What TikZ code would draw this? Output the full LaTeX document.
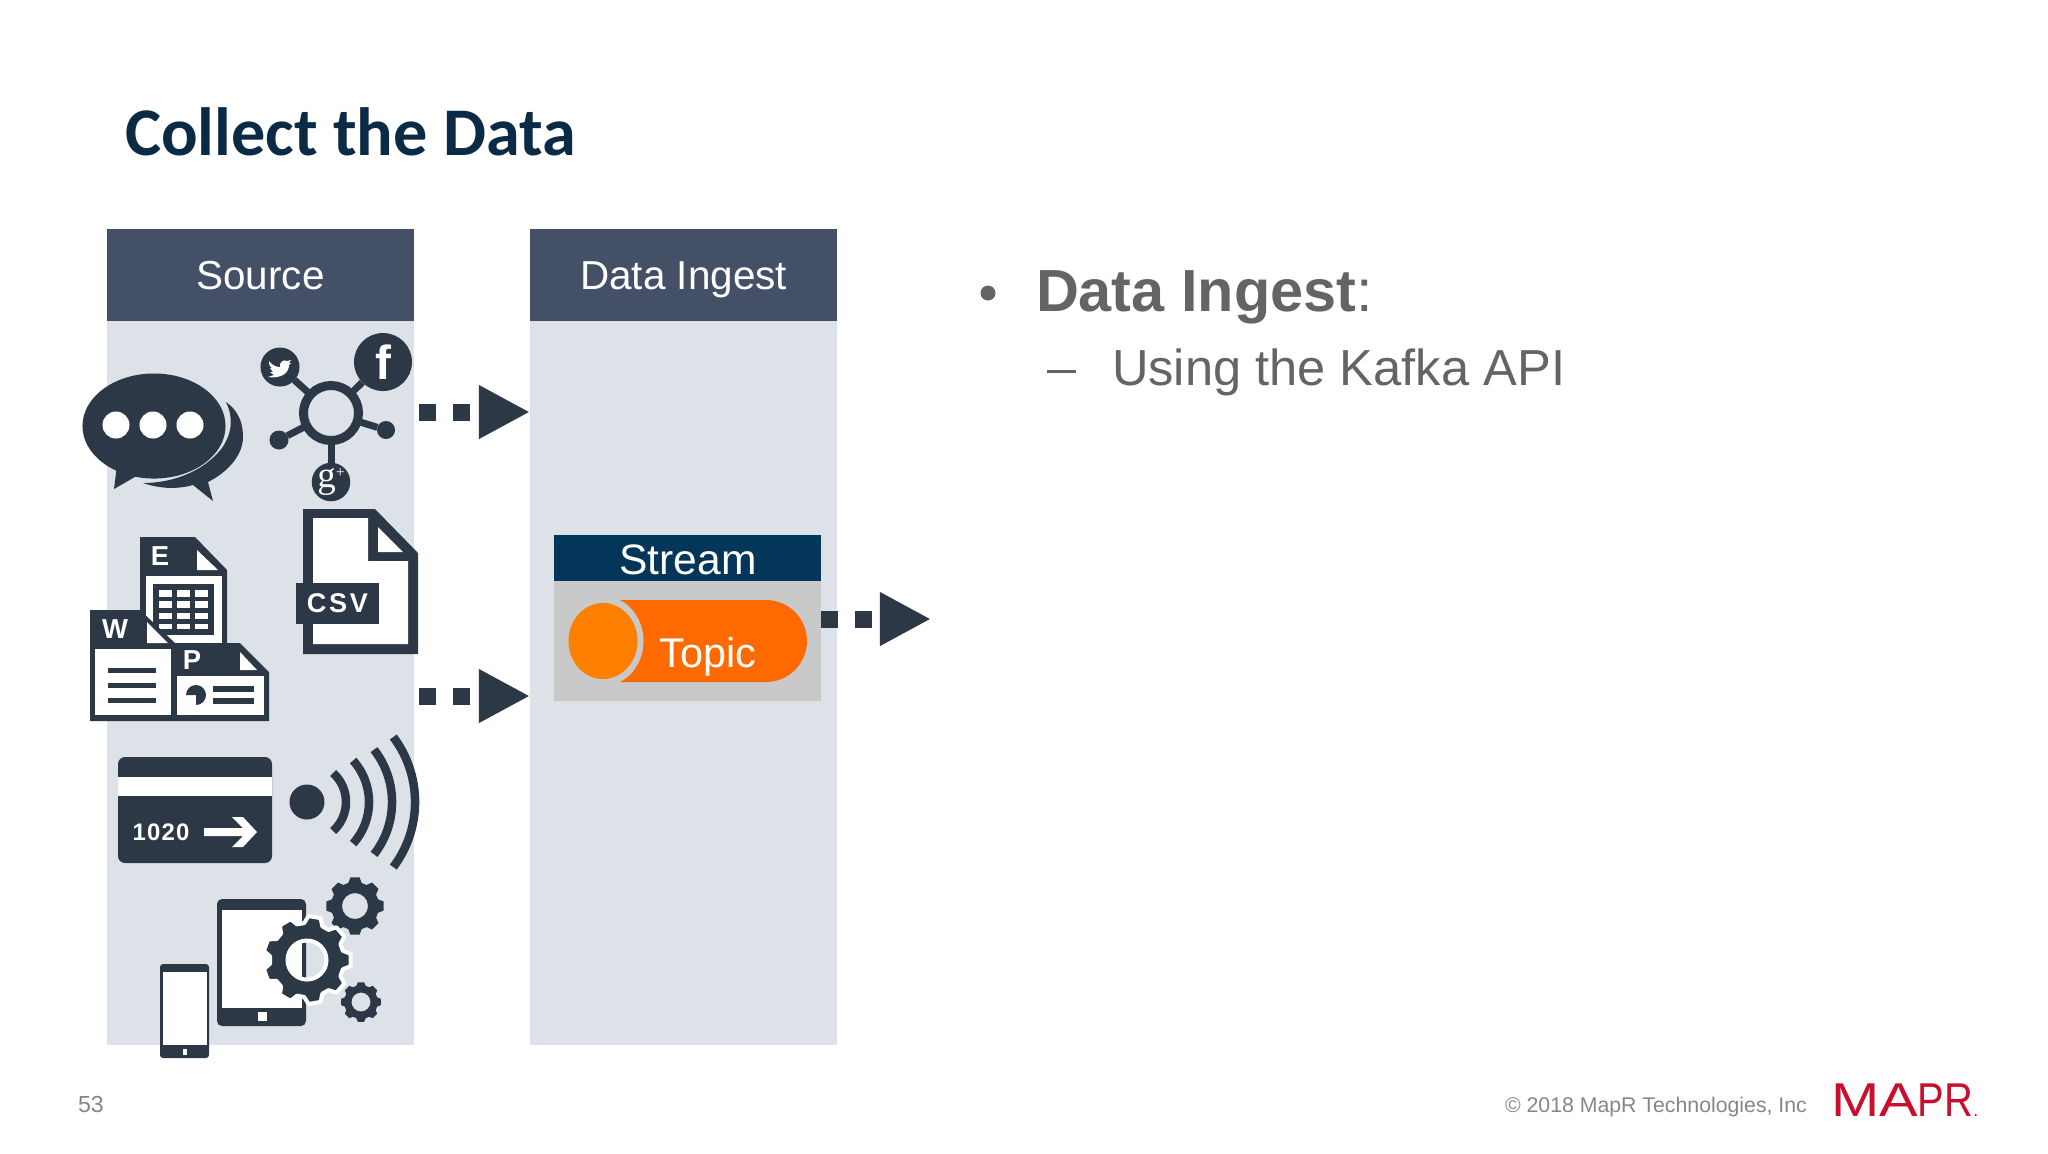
\documentclass[tikz,border=0pt]{standalone}
\usepackage{fontspec}
\usetikzlibrary{arrows.meta}
\setmainfont{Liberation Sans}
\newfontfamily\titlefont{Carlito}
\newfontfamily\serifglyph{Liberation Serif}
\newfontfamily\trackedfont[LetterSpace=10]{Liberation Sans}
\newfontfamily\cardfont[LetterSpace=5]{Liberation Sans}
\definecolor{icondark}{HTML}{2D3846}
\definecolor{headslate}{HTML}{445066}
\definecolor{bodyblue}{HTML}{DDE2E9}
\definecolor{streamnavy}{HTML}{04365A}
\definecolor{streamgrey}{HTML}{C9C9C9}
\definecolor{topicorange}{HTML}{FF6A00}
\definecolor{knoborange}{HTML}{FF8000}
\definecolor{titlenavy}{HTML}{0B2A45}
\definecolor{bulletgrey}{HTML}{646464}
\definecolor{footgrey}{HTML}{85868A}
\definecolor{maprred}{HTML}{C8102E}
\tikzset{
    colhead/.style={fill=headslate, text=white, anchor=north west, inner sep=0pt, outer sep=0pt, minimum width=3.07cm, minimum height=0.92cm, text height=0.29cm, text depth=0cm, font=\fontsize{11.5}{13}\selectfont},
    colbody/.style={fill=bodyblue, anchor=north west, inner sep=0pt, outer sep=0pt, minimum width=3.07cm, minimum height=7.24cm},
    flowarrow/.style={icondark, line width=0.17cm, dash pattern=on 0.17cm off 0.17cm, -{Triangle[width=0.5cm,length=0.51cm]}},
    plaintext/.style={inner sep=0pt, outer sep=0pt, anchor=base west},
    hubdot/.style={circle, fill=icondark, text=white, inner sep=0pt, outer sep=0pt},
    spoke/.style={icondark, line width=0.07cm},
    glyph/.style={text=white, inner sep=0pt, font=\fontsize{7.8}{9}\selectfont\bfseries},
    wave/.style={icondark, line width=0.085cm}
}
% #2 centre, #3 teeth, #4 outer radius, #5 root radius, #6 hole radius (radii in mm)
\newcommand{\gearshape}[6][]{
    \begin{scope}[shift={(#2)}]
        \pgfmathsetmacro{\gearstep}{360/#3}
        \path[fill=icondark, even odd rule, #1] ({-0.36*\gearstep}:#5 mm)
            \foreach \i [evaluate=\i as \a using (\i-1)*\gearstep] in {1,...,#3} {
                -- ({\a-0.2*\gearstep}:#4 mm) -- ({\a+0.2*\gearstep}:#4 mm)
                -- ({\a+0.36*\gearstep}:#5 mm) -- ({\a+0.64*\gearstep}:#5 mm)
            } -- cycle (0,0) circle[radius=#6 mm];
    \end{scope}
}
\begin{document}
\begin{tikzpicture}[x=0.01cm, y=-0.01cm]
    \useasboundingbox (0,0) rectangle (2048,1153);

    \node[plaintext, text=titlenavy, font=\fontsize{19.4}{23}\selectfont\titlefont\bfseries] (title) at (125,155) {Collect the Data};

    % columns
    \node[colbody] (sourcebody) at (107,321) {};
    \node[colhead] (sourcehead) at (107,229) {Source};
    \node[colbody] (ingestbody) at (530,321) {};
    \node[colhead] (ingesthead) at (530,229) {Data Ingest};

    % stream box
    \node[fill=streamgrey, anchor=north west, inner sep=0pt, outer sep=0pt, minimum width=2.67cm, minimum height=1.2cm] (streambody) at (554,581) {};
    \node[fill=streamnavy, text=white, anchor=north west, inner sep=0pt, outer sep=0pt, minimum width=2.67cm, minimum height=0.46cm] (streamhead) at (554,535) {};
    \node[text=white, inner sep=0pt, anchor=base, font=\fontsize{12.1}{14}\selectfont] (streamlabel) at (688,574) {Stream};
    \fill[topicorange, rounded corners=0.41cm] (580,600) rectangle (807,682);
    \fill[streamgrey] (603,641) ellipse[x radius=0.405cm, y radius=0.45cm];
    \fill[knoborange] (603,641) ellipse[x radius=0.345cm, y radius=0.38cm];
    \node[text=white, inner sep=0pt, anchor=base, font=\fontsize{11.8}{13}\selectfont] (topiclabel) at (708,667) {Topic};

    % arrows
    \coordinate (flowone) at (419,412);
    \coordinate (flowtwo) at (419,696);
    \coordinate (flowthree) at (821,619);
    \coordinate (flowend) at (931,619);
    \draw[flowarrow] (flowone) -- (flowone -| ingestbody.west);
    \draw[flowarrow] (flowtwo) -- (flowtwo -| ingestbody.west);
    \draw[flowarrow] (flowthree) -- (flowend);

    % chat bubbles
    \fill[icondark] (226,402) .. controls (240,412) and (243,425) .. (243,437) .. controls (243,455) and (228,472) .. (208,482) -- (213,501) -- (193,485) .. controls (175,490) and (158,488) .. (143,483) .. controls (175,483) and (205,470) .. (222,448) .. controls (233,432) and (233,416) .. (226,402) -- cycle;
    \fill[icondark] (154,426) ellipse[x radius=0.715cm, y radius=0.525cm];
    \fill[icondark] (117,465) -- (114,489) -- (140,474) -- cycle;
    \foreach \x in {116,153,190}
        \fill[white] (\x,425) circle[radius=0.135cm];

    % social hub
    \node[circle, draw=icondark, line width=0.09cm, inner sep=0pt, outer sep=0pt, minimum size=0.55cm] (hub) at (331,413) {};
    \node[hubdot, minimum size=0.39cm] (twitter) at (280,367) {};
    \node[hubdot, minimum size=0.58cm, font=\fontsize{13.6}{14}\selectfont\bfseries] (facebook) at (383,362) {f};
    \node[hubdot, minimum size=0.37cm, font=\fontsize{10.5}{11}\selectfont\serifglyph] (google) at (331,482) {g\raisebox{0.6ex}{\fontsize{4.5}{5}\selectfont +}};
    \node[hubdot, minimum size=0.19cm] (leftdot) at (279,440) {};
    \node[hubdot, minimum size=0.18cm] (rightdot) at (386,430) {};
    \draw[spoke] (hub) -- (twitter);
    \draw[spoke] (hub) -- (facebook);
    \draw[spoke] (hub) -- (google);
    \draw[spoke] (hub) -- (leftdot);
    \draw[spoke] (hub) -- (rightdot);
    \fill[white] (269,361) .. controls (273,366) and (277,367) .. (280,367) .. controls (279,362) and (284,359) .. (287,361) -- (291,360) -- (289,363) -- (291,363) -- (289,365) .. controls (289,373) and (281,379) .. (268,377) -- (274,375) -- (270,372) -- (273,372) -- (270,368) -- (272,368) .. controls (269,366) and (269,364) .. (269,361) -- cycle;

    % csv file
    \fill[icondark] (303,509) -- (375,509) -- (418,553) -- (418,654) -- (303,654) -- cycle;
    \fill[white] (313,518) -- (368,518) -- (368,561) -- (408,561) -- (408,644) -- (313,644) -- cycle;
    \fill[white] (378,527) -- (378,552) -- (403,552) -- cycle;
    \node[fill=icondark, text=white, anchor=north west, inner sep=0pt, outer sep=0pt, minimum width=0.83cm, minimum height=0.41cm, font=\fontsize{7.7}{9}\selectfont\trackedfont\bfseries] (csvtag) at (296,583) {CSV};

    % spreadsheet
    \fill[icondark] (140,537) -- (195,537) -- (227,570) -- (227,650) -- (140,650) -- cycle;
    \fill[white] (146,576) rectangle (222,650);
    \fill[white] (197,550) -- (197,570) -- (218,570) -- cycle;
    \fill[icondark] (153,584) rectangle (214,635);
    \foreach \y/\h in {590/7,601/7,613/6,624/5}
        \foreach \x in {159,177,195}
            \fill[white] (\x,\y) rectangle ++(13,\h);
    \node[glyph] (excelmark) at (160,556) {E};

    % word and slides
    \fill[icondark] (90,610) -- (140,610) -- (175,643) -- (240,643) -- (269,672) -- (269,721) -- (90,721) -- cycle;
    \fill[white] (147,622) -- (147,643) -- (168,643) -- cycle;
    \fill[white] (95,649) rectangle (171,715);
    \fill[white] (177,676) rectangle (264,715);
    \fill[white] (240,652) -- (240,670) -- (257,670) -- cycle;
    \foreach \y in {670,685,700}
        \fill[icondark] (108,\y-2.5) rectangle (156,\y+2.5);
    \foreach \y in {689,701}
        \fill[icondark] (213,\y-3) rectangle (254,\y+3);
    \fill[icondark] (196,695) -- ++(180:1mm) arc[start angle=180, end angle=-90, radius=1mm] -- cycle;
    \node[glyph] (wordmark) at (115,629) {W};
    \node[glyph] (slidemark) at (192,660) {P};

    % card and wireless
    \fill[icondark, rounded corners=0.07cm] (118,757) rectangle (272,863);
    \fill[white] (118,777) rectangle (272,796);
    \node[text=white, inner sep=0pt, anchor=base west, font=\fontsize{6.8}{8}\selectfont\cardfont\bfseries] (cardnumber) at (132,840) {1020};
    \fill[white] (204,828) -- (243,828) -- (232,817) -- (243,817) -- (257,832) -- (243,847) -- (232,847) -- (243,836) -- (204,836) -- cycle;
    \node[hubdot, minimum size=0.35cm] (wireless) at (307,802) {};
    \foreach \r/\a in {39/48,62/42,85/38,108/37}
        \draw[wave] (wireless.center) ++(-\a:{\r*0.1 mm}) arc[start angle=-\a, end angle=\a, radius={\r*0.1 mm}];

    % devices
    \gearshape{355,906}{8}{2.9}{2.4}{1.3}
    \gearshape{361,1002}{8}{2.0}{1.68}{0.95}
    \fill[icondark, rounded corners=0.05cm] (217,899) rectangle (306,1026);
    \fill[white] (222,910) rectangle (302,1008);
    \fill[white] (258,1012) rectangle (267,1021);
    \gearshape[draw=white, line width=0.04cm, line join=round]{307,960}{9}{4.4}{3.7}{1.95}
    \fill[icondark, rounded corners=0.03cm] (160,964) rectangle (209,1058);
    \fill[white] (163,972) rectangle (207,1045);
    \fill[white] (183,1049) rectangle (187,1055);

    % bullets
    \node[circle, fill=bulletgrey, inner sep=0pt, outer sep=0pt, minimum size=0.15cm] (bulletdot) at (988,293) {};
    \node[plaintext, text=bulletgrey, font=\fontsize{16.9}{20}\selectfont] (bulletmain) at (1036,311) {\textbf{Data Ingest}:};
    \fill[bulletgrey] (1047,370) rectangle (1076,373);
    \node[plaintext, text=bulletgrey, font=\fontsize{14.4}{17}\selectfont] (bulletsub) at (1112,385) {Using the Kafka API};

    % footer
    \node[plaintext, text=footgrey, font=\fontsize{6.6}{8}\selectfont] (pagenumber) at (78,1112) {53};
    \node[plaintext, text=footgrey, font=\fontsize{6.05}{8}\selectfont] (copyright) at (1505,1112) {© 2018 MapR Technologies, Inc};
    \node[plaintext, text=maprred, font=\fontsize{13.5}{15}\selectfont] (maprlogo) at (1831,1116) {\scalebox{1.22}[1]{MA}\scalebox{0.84}[1]{PR}{\fontsize{5}{6}\selectfont .}};
\end{tikzpicture}
\end{document}
